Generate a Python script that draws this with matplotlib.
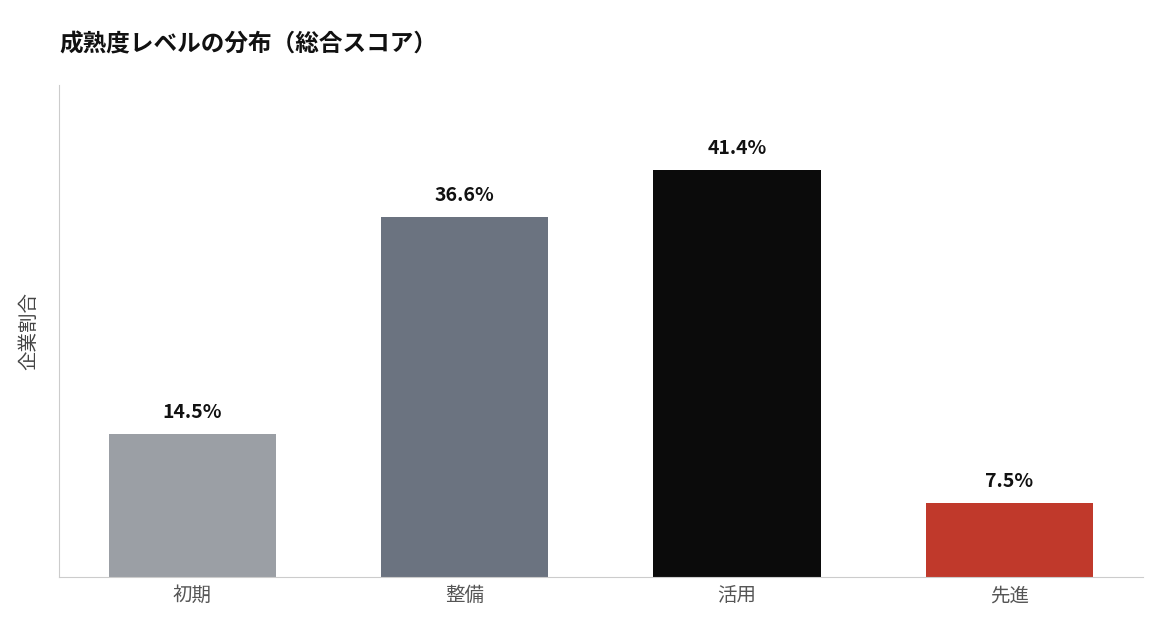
import matplotlib
matplotlib.use('Agg')
import matplotlib.pyplot as plt

plt.rcParams['font.family'] = ['Noto Sans CJK JP', 'DejaVu Sans']

# data
levels = ['初期', '整備', '活用', '先進']
shares = [14.5, 36.6, 41.4, 7.5]
colors = ['#9b9fa5', '#6b7380', '#0b0b0b', '#c0392b']

fig = plt.figure(figsize=(11.63, 6.35), dpi=100)
ax = fig.add_axes([0.0507, 0.0913, 0.932, 0.775])

bars = ax.bar(range(len(levels)), shares, width=0.615, color=colors)
for b, v in zip(bars, shares):
    ax.text(b.get_x() + b.get_width() / 2, v + 1.2, f'{v}%',
            ha='center', va='bottom', fontsize=14, fontweight='bold', color='#111111')

ax.set_xlim(-0.49, 3.49)
ax.set_ylim(0, 50)
ax.set_xticks(range(len(levels)))
ax.set_xticklabels(levels, fontsize=14, color='#555555')
ax.set_yticks([])
ax.tick_params(axis='x', length=0, pad=6)
ax.set_ylabel('企業割合', fontsize=14, color='#444444', labelpad=14)
for s in ['top', 'right']:
    ax.spines[s].set_visible(False)
ax.spines['left'].set_color('#cccccc')
ax.spines['bottom'].set_color('#cccccc')

fig.text(0.051, 0.93, '成熟度レベルの分布（総合スコア）', fontsize=17,
         fontweight='bold', color='#111111', va='center')

fig.savefig('out.png', dpi=100)
